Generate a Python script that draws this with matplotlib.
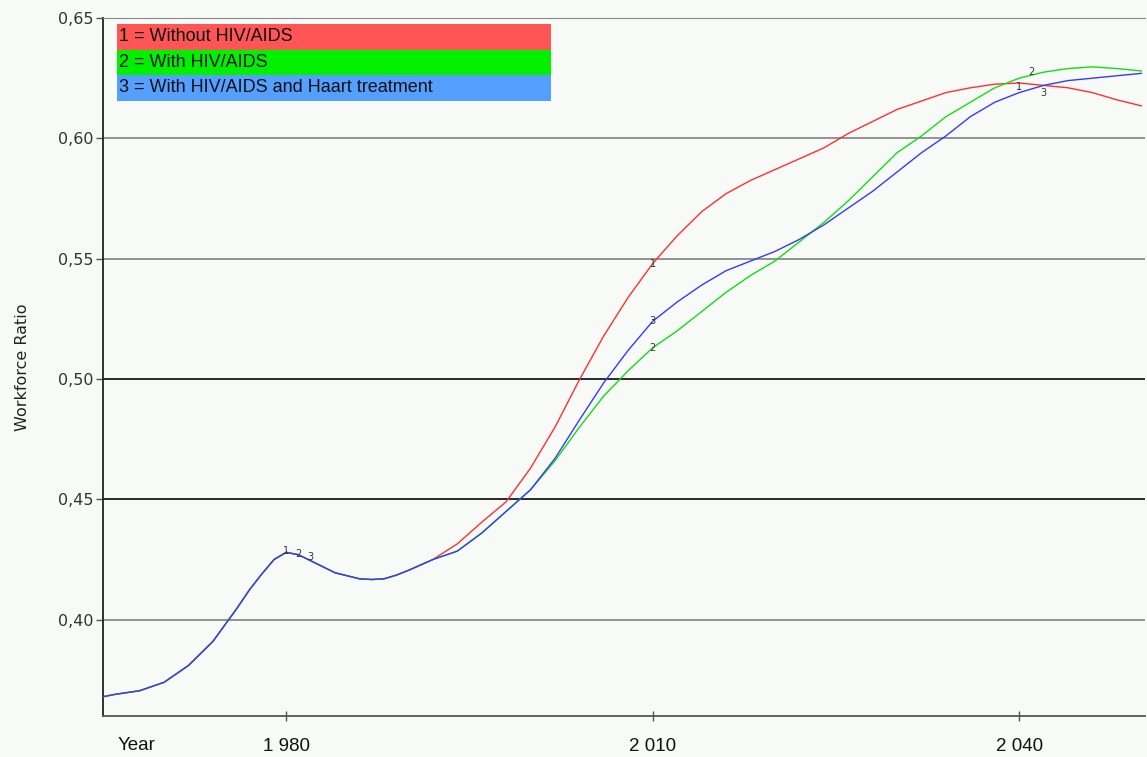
import matplotlib
matplotlib.use('Agg')
import matplotlib.pyplot as plt
from matplotlib.patches import Rectangle

years = [1965, 1966, 1968, 1970, 1972, 1974, 1976, 1977, 1978, 1979, 1980, 1981,
         1982, 1984, 1986, 1987, 1988, 1989, 1990, 1992, 1994, 1996, 1998, 2000,
         2002, 2004, 2006, 2008, 2010, 2012, 2014, 2016, 2018, 2020, 2022, 2024,
         2026, 2028, 2030, 2032, 2034, 2036, 2038, 2040, 2042, 2044, 2046, 2048,
         2050]

shared = [0.368, 0.369, 0.3705, 0.374, 0.381, 0.391, 0.405, 0.4125, 0.419, 0.425,
          0.428, 0.427, 0.4245, 0.4195, 0.417, 0.4167, 0.417, 0.4185, 0.4205,
          0.425]

without_hiv = shared + [0.4315, 0.4405, 0.449, 0.463, 0.480, 0.4997, 0.518,
                        0.534, 0.548, 0.5595, 0.5695, 0.577, 0.5825, 0.587,
                        0.5915, 0.596, 0.602, 0.607, 0.612, 0.6155, 0.619, 0.621,
                        0.6225, 0.623, 0.622, 0.621, 0.619, 0.616, 0.6135]
with_hiv = shared + [0.4285, 0.436, 0.445, 0.454, 0.466, 0.480, 0.493, 0.5035,
                     0.513, 0.520, 0.528, 0.536, 0.543, 0.549, 0.557, 0.565,
                     0.574, 0.584, 0.594, 0.601, 0.609, 0.615, 0.621, 0.625,
                     0.6275, 0.629, 0.6297, 0.629, 0.628]
with_haart = shared + [0.4285, 0.436, 0.445, 0.454, 0.467, 0.483, 0.4985, 0.512,
                       0.524, 0.532, 0.539, 0.545, 0.549, 0.553, 0.558, 0.564,
                       0.571, 0.578, 0.586, 0.594, 0.601, 0.609, 0.615, 0.619,
                       0.622, 0.624, 0.625, 0.626, 0.627]

legend_labels = ['1 = Without HIV/AIDS', '2 = With HIV/AIDS',
                 '3 = With HIV/AIDS and Haart treatment']
yticks = [0.40, 0.45, 0.50, 0.55, 0.60, 0.65]
xticks = [1980, 2010, 2040]
xticklabels = ['1 980', '2 010', '2 040']

bg = '#f8faf8'
fig = plt.figure(figsize=(11.47, 7.57), dpi=100, facecolor=bg)
ax = fig.add_axes([103 / 1147, 41 / 757, 1042 / 1147, 698 / 757], facecolor=bg)

grid_colors = {0.40: '#8a8a8a', 0.45: '#1a1a1a', 0.50: '#1a1a1a',
               0.55: '#8a8a8a', 0.60: '#8a8a8a', 0.65: '#8a8a8a'}
for v in yticks:
    ax.axhline(v, color=grid_colors[v], lw=1.3, zorder=1)

series = [(without_hiv, '#ff3030'), (with_hiv, '#10e010'), (with_haart, '#3838ff')]
for vals, c in series:
    ax.plot(years, vals, color=c, lw=1.0, zorder=3)

# curve numbers
marks = {1980: [(0, 0.0006), (1.0, -0.0006), (2.0, -0.0020)],
         2010: [(0, 0.0), (0, 0.0), (0, 0.0)],
         2041: [(-1.0, -0.0010), (0.0, 0.0012), (1.0, -0.0015)]}
for yr, offs in marks.items():
    for k, (vals, c) in enumerate(series):
        if yr == 1980:
            yv = 0.428
        elif yr in years:
            yv = vals[years.index(yr)]
        else:
            i = years.index(yr - 1)
            yv = (vals[i] + vals[i + 1]) / 2
        dx, dy = offs[k]
        ax.text(yr + dx, yv + dy, str(k + 1), fontsize=7, color='#333333',
                ha='center', va='center', zorder=4)

ax.set_xlim(1965, 2050.3)
ax.set_ylim(0.36, 0.65)
ax.set_yticks(yticks)
ax.set_yticklabels([f'{v:.2f}'.replace('.', ',') for v in yticks],
                   fontsize=11.5, color='#333333', family='DejaVu Sans')
ax.set_xticks(xticks)
ax.set_xticklabels(xticklabels, fontsize=13.5, color='#111111', family='Liberation Sans')
ax.tick_params(axis='y', length=5, width=1, color='#555555', pad=2)
ax.tick_params(axis='x', direction='inout', length=7, width=1, color='#555555', pad=12)
ax.set_ylabel('Workforce Ratio', fontsize=11.5, color='#222222', labelpad=20)
fig.text(118 / 1147, 1 - 745 / 757, 'Year', fontsize=13.5, color='#111111',
         family='Liberation Sans', ha='left', va='center')

ax.spines['right'].set_visible(False)
ax.spines['top'].set_color('#8a8a8a')
ax.spines['left'].set_color('#222222')
ax.spines['left'].set_linewidth(1.3)
ax.spines['bottom'].set_color('#555555')
ax.spines['bottom'].set_linewidth(1.3)

# legend box with coloured rows
box_colors = ['#ff5555', '#00f000', '#55a0ff']
x0 = (117 - 103) / 1042
w = (551 - 117) / 1042
row_h = 25.5 / 698
top = 1 - (24 - 18) / 698
for k, (lab, c) in enumerate(zip(legend_labels, box_colors)):
    yb = top - (k + 1) * row_h
    ax.add_patch(Rectangle((x0, yb), w, row_h, transform=ax.transAxes,
                           facecolor=c, edgecolor='none', zorder=5))
    ax.text(x0 + 0.002, yb + row_h / 2, lab, transform=ax.transAxes,
            fontsize=13, color='#111111', family='Liberation Sans',
            va='center', ha='left', zorder=6)

fig.savefig('out.png', dpi=100, facecolor=bg)
